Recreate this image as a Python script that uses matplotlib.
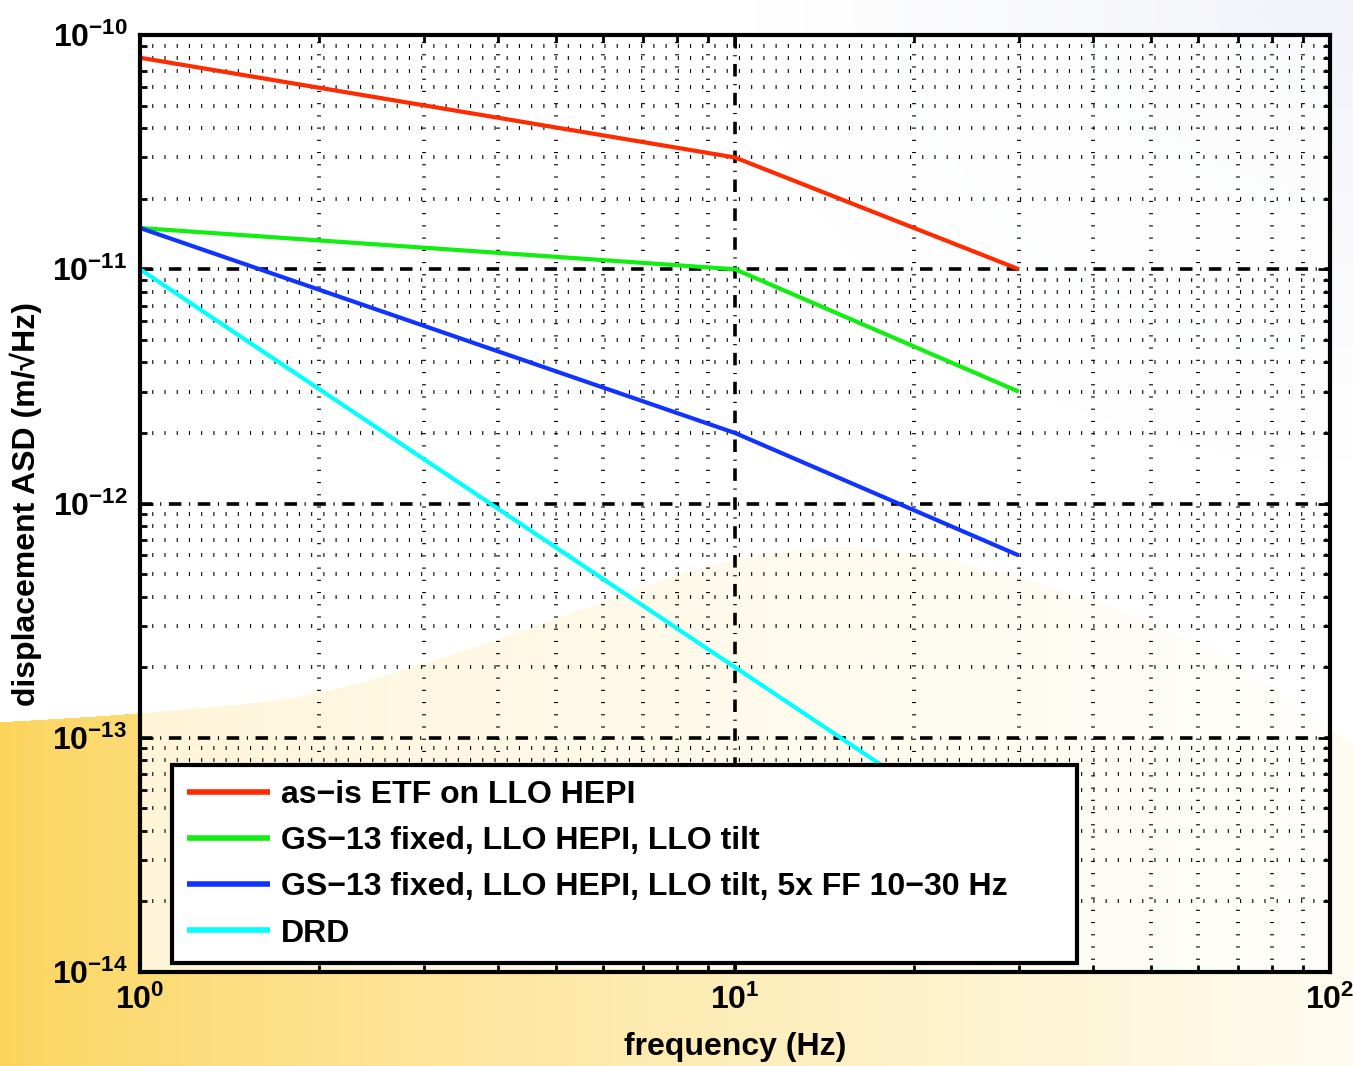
import numpy as np
import matplotlib
matplotlib.use("Agg")
import matplotlib.pyplot as plt
from matplotlib.ticker import LogLocator, LogFormatterSciNotation, NullFormatter

plt.rcParams['font.family'] = ['Liberation Sans', 'DejaVu Sans']
plt.rcParams['font.weight'] = 'bold'
plt.rcParams['mathtext.fontset'] = 'custom'
plt.rcParams['mathtext.rm'] = 'Liberation Sans:bold'
plt.rcParams['mathtext.bf'] = 'Liberation Sans:bold'
plt.rcParams['mathtext.it'] = 'Liberation Sans:bold'
plt.rcParams['lines.scale_dashes'] = False

# donnees
freq = [1, 10, 30]
asis_etf = [8e-11, 3e-11, 1e-11]
gs13_fixed = [1.5e-11, 1e-11, 3e-12]
gs13_ff = [1.5e-11, 2e-12, 6e-13]
drd = [1e-11, 2e-13, 3.1e-14]

labels = ['as\u2212is ETF on LLO HEPI',
          'GS\u221213 fixed, LLO HEPI, LLO tilt',
          'GS\u221213 fixed, LLO HEPI, LLO tilt, 5x FF 10\u221230 Hz',
          'DRD']
colors = ['#ff2a00', '#11ee11', '#1133ff', '#00ffff']

W, H = 1353, 1066
fig = plt.figure(figsize=(W / 100, H / 100), dpi=100)

# fond de diapo (vague jaune en bas a gauche)
xx, yy = np.meshgrid(np.arange(W), np.arange(H))
bx = [-200, 0, 143, 312, 446, 580, 700, 780, 858, 960, 1075, 1200, 1280, 1353, 1550]
by = [730, 722, 713, 697, 657, 610, 565, 550, 543, 560, 593, 640, 690, 750, 850]
xs = np.arange(-200, 1550)
b = np.interp(xs, bx, by)
k = np.ones(121) / 121
b = np.convolve(b, k, mode='same')
bound = np.interp(xx, xs[80:-80], b[80:-80])
t = np.clip(xx / W, 0, 1) ** 0.75
yellow = np.stack([252 + 3 * t, 212 + 40 * t, 90 + 150 * t], axis=-1) / 255
grey = np.array([242, 243, 249]) / 255
d = np.sqrt((xx - W) ** 2 + (yy * 1.3) ** 2)
g = np.clip(1 - d / 600, 0, 1)[..., None]
base = (1 - g) * np.ones(3) + g * grey
img = np.where((yy > bound)[..., None], yellow, base)
bg = fig.add_axes([0, 0, 1, 1], zorder=-10)
bg.imshow(img, aspect='auto')
bg.axis('off')

ax = fig.add_axes([140 / W, 1 - 972 / H, 1190 / W, 937 / H])
ax.set_facecolor((1, 1, 1, 0.72))

for y, lab, c in zip([asis_etf, gs13_fixed, gs13_ff, drd], labels, colors):
    ax.loglog(freq, y, color=c, lw=3, label=lab, solid_capstyle='butt')

ax.set_xlim(1, 100)
ax.set_ylim(1e-14, 1e-10)
ax.xaxis.set_major_locator(LogLocator(base=10, numticks=10))
ax.yaxis.set_major_locator(LogLocator(base=10, numticks=10))
ax.xaxis.set_minor_locator(LogLocator(base=10, subs=np.arange(2, 10), numticks=20))
ax.yaxis.set_minor_locator(LogLocator(base=10, subs=np.arange(2, 10), numticks=20))
ax.xaxis.set_major_formatter(LogFormatterSciNotation())
ax.yaxis.set_major_formatter(LogFormatterSciNotation())
ax.xaxis.set_minor_formatter(NullFormatter())
ax.yaxis.set_minor_formatter(NullFormatter())

ax.set_axisbelow(True)
ax.grid(which='minor', color='black', lw=2.8, linestyle=(0, (0.8, 8)))
ax.grid(which='major', color='black', lw=2.6, linestyle=(0, (9, 5.5, 0.8, 5.5)))

ax.tick_params(which='both', direction='in', top=True, right=True, width=2, labelsize=23)
ax.tick_params(which='major', length=9, pad=9)
ax.tick_params(which='minor', length=5)
for s in ax.spines.values():
    s.set_linewidth(3)

ax.set_xlabel('frequency (Hz)', fontsize=23, fontweight='bold')
ax.set_ylabel('displacement ASD (m/\u221aHz)', fontsize=23, fontweight='bold')
ax.xaxis.set_label_coords(0.5, -0.064)
ax.yaxis.set_label_coords(-0.082, 0.5)

leg = ax.legend(loc='lower left', bbox_to_anchor=(0.027, 0.0096, 0.760, 0.216),
                mode='expand', borderaxespad=0,
                fontsize=23, fancybox=False, framealpha=1, edgecolor='black',
                handlelength=2.6, handletextpad=0.35, labelspacing=0.51, borderpad=0.45)
leg.get_frame().set_linewidth(3)
for h in leg.get_lines():
    h.set_linewidth(4)
leg.set_zorder(5)

fig.savefig('out.png', dpi=100)
